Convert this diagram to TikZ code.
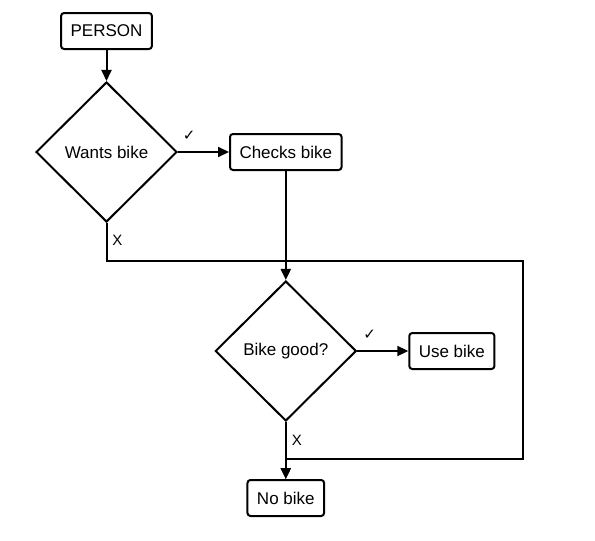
\documentclass[tikz,border=0pt]{standalone}
\usepackage{fontspec}
\setmainfont{Liberation Sans}
\newfontfamily\checkfont{DejaVu Sans}
\usetikzlibrary{arrows.meta,positioning,shapes.geometric}

\begin{document}
\begin{tikzpicture}[
    x=1pt, y=-1pt,
    >={Triangle[length=11pt,width=10pt]},
    line width=2pt,
    font=\fontsize{17}{20}\selectfont,
    stepbox/.style={
		rectangle,
		rounded corners=3pt,
		draw=black, 
		text centered,
		inner xsep=9.5pt,
		minimum height=36pt,
		fill=white
	},
	decision/.style={
		diamond,
		draw=black,
		inner sep=0pt,
		minimum width=141pt,
		minimum height=140pt
	},
	yeslabel/.style={
		font=\checkfont\fontsize{15}{15}\selectfont,
		yshift=16pt
	},
	nolabel/.style={
		font=\fontsize{15}{15}\selectfont,
		xshift=11pt
	}
  ]
    \useasboundingbox (0,0) rectangle (595,541);

    % We start by placing the blocks
  \node [stepbox] (person) at (106.5,31) {PERSON};
  \node [decision, below=31pt of person] (wants) {Wants bike};
  \node [stepbox, right=51pt of wants] (checks) {Checks bike};
  \node [decision, below=109pt of checks] (good) {Bike good?};
  \node [stepbox, right=51pt of good] (use) {Use bike};
  \node [stepbox, below=57pt of good] (nobike) {No bike};

  \coordinate (topright) at (523,261);
  \coordinate (botright) at (523,459);

 \draw [->] (person) -- (wants);
 \draw [->] (wants) -- node [yeslabel, pos=0.22] {✓} (checks);
 \draw [->] (checks) -- (good);
 \draw [->] (good) -- node [yeslabel, pos=0.24] {✓} (use);
 \draw [->] (good) -- node [nolabel, pos=0.33] {X} (nobike);
 \draw [->] (wants.south) -- node [nolabel, pos=0.45] {X} (wants.south |- topright)
   -- (topright) -- (botright) -| (nobike);

\end{tikzpicture}
\end{document}
